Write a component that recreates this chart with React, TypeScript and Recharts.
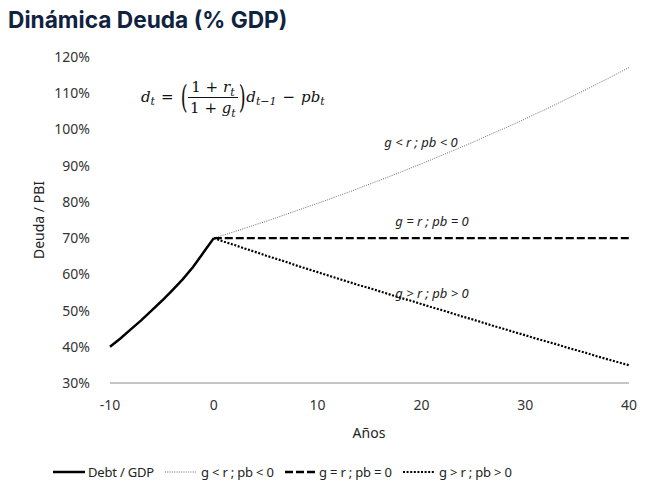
import React from 'react';
import { LineChart, Line, XAxis, YAxis } from 'recharts';

// historical debt / GDP, years -10..0
const histYears = [-10, -9, -8, -7, -6, -5, -4, -3, -2, -1, 0];
const debtHist = [40, 42.3, 44.8, 47.3, 50, 52.7, 55.6, 58.6, 62, 66, 70];

// projections, years 0..40
const projYears = [
  0, 1, 2, 3, 4, 5, 6, 7, 8, 9, 10, 11, 12, 13, 14, 15, 16, 17, 18, 19, 20,
  21, 22, 23, 24, 25, 26, 27, 28, 29, 30, 31, 32, 33, 34, 35, 36, 37, 38, 39, 40,
];
const gLessR = [
  70, 70.9, 71.8, 72.7, 73.7, 74.6, 75.6, 76.6, 77.6, 78.6, 79.6, 80.6, 81.7, 82.7, 83.8,
  84.9, 86, 87.1, 88.2, 89.4, 90.5, 91.7, 92.9, 94.1, 95.3, 96.5, 97.8, 99.1, 100.3, 101.6,
  102.9, 104.3, 105.6, 107, 108.4, 109.8, 111.2, 112.7, 114.1, 115.6, 117.1,
];
const flatYears = [0, 40];
const gEqualR = [70, 70];
const gMoreR = [
  70, 69, 68.1, 67.1, 66.2, 65.2, 64.3, 63.4, 62.4, 61.5, 60.6, 59.7, 58.8, 57.9, 57,
  56.2, 55.3, 54.4, 53.5, 52.7, 51.8, 50.9, 50.1, 49.2, 48.3, 47.5, 46.6, 45.7, 44.9, 44,
  43.2, 42.3, 41.5, 40.7, 39.8, 39, 38.2, 37.3, 36.5, 35.7, 34.9,
];

const xTicks = [-10, 0, 10, 20, 30, 40];
const yTicks = [30, 40, 50, 60, 70, 80, 90, 100, 110, 120];

const seriesNames = ['Debt / GDP', 'g < r ; pb < 0', 'g = r ; pb = 0', 'g > r ; pb > 0'];

const histData = histYears.map((x, i) => ({ x, v: debtHist[i] }));
const upData = projYears.map((x, i) => ({ x, v: gLessR[i] }));
const flatData = flatYears.map((x, i) => ({ x, v: gEqualR[i] }));
const downData = projYears.map((x, i) => ({ x, v: gMoreR[i] }));

const sans = '"Noto Sans", "Open Sans", sans-serif';
const serif = '"DejaVu Serif", "Liberation Serif", serif';

const styles = [
  { stroke: '#000', strokeWidth: 2.5, dash: undefined },
  { stroke: '#6a6a6a', strokeWidth: 1, dash: '1 1.3' },
  { stroke: '#000', strokeWidth: 2.3, dash: '8 3' },
  { stroke: '#000', strokeWidth: 2.2, dash: '2 1.6' },
];

const Note = ({ x, y, text }: { x: number; y: number; text: string }) => (
  <div
    style={{
      position: 'absolute', left: x, top: y, transform: 'translate(-50%, -50%)',
      fontFamily: sans, fontStyle: 'italic', fontSize: 13, color: '#222', whiteSpace: 'nowrap',
    }}
  >
    {text}
  </div>
);

const Formula = () => {
  const sub = { fontSize: 11, position: 'relative' as const, top: 4, fontStyle: 'italic' as const };
  const paren = { fontSize: 32, fontWeight: 200, transform: 'scaleX(0.55)', display: 'inline-block', margin: '0 -2px' };
  return (
    <div
      style={{
        position: 'absolute', left: 141, top: 78, height: 38, display: 'flex', alignItems: 'center',
        fontFamily: serif, fontSize: 15, color: '#111', whiteSpace: 'nowrap',
      }}
    >
      <i>d</i><span style={sub}>t</span>
      <span style={{ margin: '0 6px' }}>=</span>
      <span style={paren}>(</span>
      <span style={{ display: 'inline-flex', flexDirection: 'column', alignItems: 'center' }}>
        <span style={{ padding: '0 2px 1px' }}>1 + <i>r</i><span style={sub}>t</span></span>
        <span style={{ borderTop: '1px solid #111', alignSelf: 'stretch' }} />
        <span style={{ padding: '1px 2px 0' }}>1 + <i>g</i><span style={sub}>t</span></span>
      </span>
      <span style={paren}>)</span>
      <i>d</i><span style={sub}>t−1</span>
      <span style={{ margin: '0 6px' }}>−</span>
      <i>pb</i><span style={sub}>t</span>
    </div>
  );
};

const Legend = () => (
  <div style={{ position: 'absolute', left: 0, top: 462, width: 664, height: 20 }}>
    {[
      { x0: 53, x1: 85, tx: 88 },
      { x0: 165, x1: 196, tx: 201 },
      { x0: 285, x1: 317, tx: 319 },
      { x0: 403, x1: 435, tx: 439 },
    ].map((p, i) => (
      <React.Fragment key={i}>
        <svg style={{ position: 'absolute', left: p.x0, top: 0 }} width={p.x1 - p.x0} height={20}>
          <line
            x1={0} y1={10} x2={p.x1 - p.x0} y2={10}
            stroke={styles[i].stroke} strokeWidth={styles[i].strokeWidth}
            strokeDasharray={styles[i].dash}
          />
        </svg>
        <div
          style={{
            position: 'absolute', left: p.tx, top: 0, lineHeight: '20px',
            fontFamily: sans, fontSize: 13, color: '#222', whiteSpace: 'nowrap', letterSpacing: -0.2,
          }}
        >
          {seriesNames[i]}
        </div>
      </React.Fragment>
    ))}
  </div>
);

export default function App() {
  return (
    <div style={{ position: 'fixed', left: 0, top: 0, width: 664, height: 493, background: '#fff', overflow: 'hidden' }}>
      <div
        style={{
          position: 'absolute', left: 8, top: 6, fontFamily: 'Inter, sans-serif', fontWeight: 700,
          fontSize: 22.7, color: '#0f2341', whiteSpace: 'nowrap',
        }}
      >
        Dinámica Deuda (% GDP)
      </div>
      <LineChart
        width={664}
        height={493}
        margin={{ top: 57, right: 35, bottom: 80, left: 0 }}
        style={{ position: 'absolute', left: 0, top: 0 }}
      >
        <XAxis
          dataKey="x"
          type="number"
          domain={[-10, 40]}
          ticks={xTicks}
          allowDuplicatedCategory={false}
          height={30}
          tickSize={0}
          tickMargin={17}
          axisLine={{ stroke: '#8c8c8c', strokeWidth: 1.2 }}
          tick={{ fontFamily: sans, fontSize: 14, fill: '#333' }}
        />
        <YAxis
          dataKey="v"
          type="number"
          domain={[30, 120]}
          ticks={yTicks}
          width={110}
          tickSize={0}
          tickMargin={20}
          axisLine={false}
          tickFormatter={(v: number) => `${v}%`}
          tick={{ fontFamily: sans, fontSize: 14, fill: '#333' }}
        />
        <Line data={upData} dataKey="v" name={seriesNames[1]} type="linear" dot={false} activeDot={false}
          stroke={styles[1].stroke} strokeWidth={styles[1].strokeWidth} strokeDasharray={styles[1].dash} isAnimationActive={false} />
        <Line data={flatData} dataKey="v" name={seriesNames[2]} type="linear" dot={false} activeDot={false}
          stroke={styles[2].stroke} strokeWidth={styles[2].strokeWidth} strokeDasharray={styles[2].dash} isAnimationActive={false} />
        <Line data={downData} dataKey="v" name={seriesNames[3]} type="linear" dot={false} activeDot={false}
          stroke={styles[3].stroke} strokeWidth={styles[3].strokeWidth} strokeDasharray={styles[3].dash} isAnimationActive={false} />
        <Line data={histData} dataKey="v" name={seriesNames[0]} type="linear" dot={false} activeDot={false}
          stroke={styles[0].stroke} strokeWidth={styles[0].strokeWidth} isAnimationActive={false} />
      </LineChart>
      <Formula />
      <Note x={421} y={142} text="g < r ; pb < 0" />
      <Note x={432} y={221} text="g = r ; pb = 0" />
      <Note x={432} y={293} text="g > r ; pb > 0" />
      <div
        style={{
          position: 'absolute', left: 38, top: 220, transform: 'translate(-50%, -50%) rotate(-90deg)',
          fontFamily: sans, fontSize: 14, color: '#222', whiteSpace: 'nowrap',
        }}
      >
        Deuda / PBI
      </div>
      <div
        style={{
          position: 'absolute', left: 369, top: 432, transform: 'translate(-50%, -50%)',
          fontFamily: sans, fontSize: 14, color: '#222', whiteSpace: 'nowrap',
        }}
      >
        Años
      </div>
      <Legend />
    </div>
  );
}
